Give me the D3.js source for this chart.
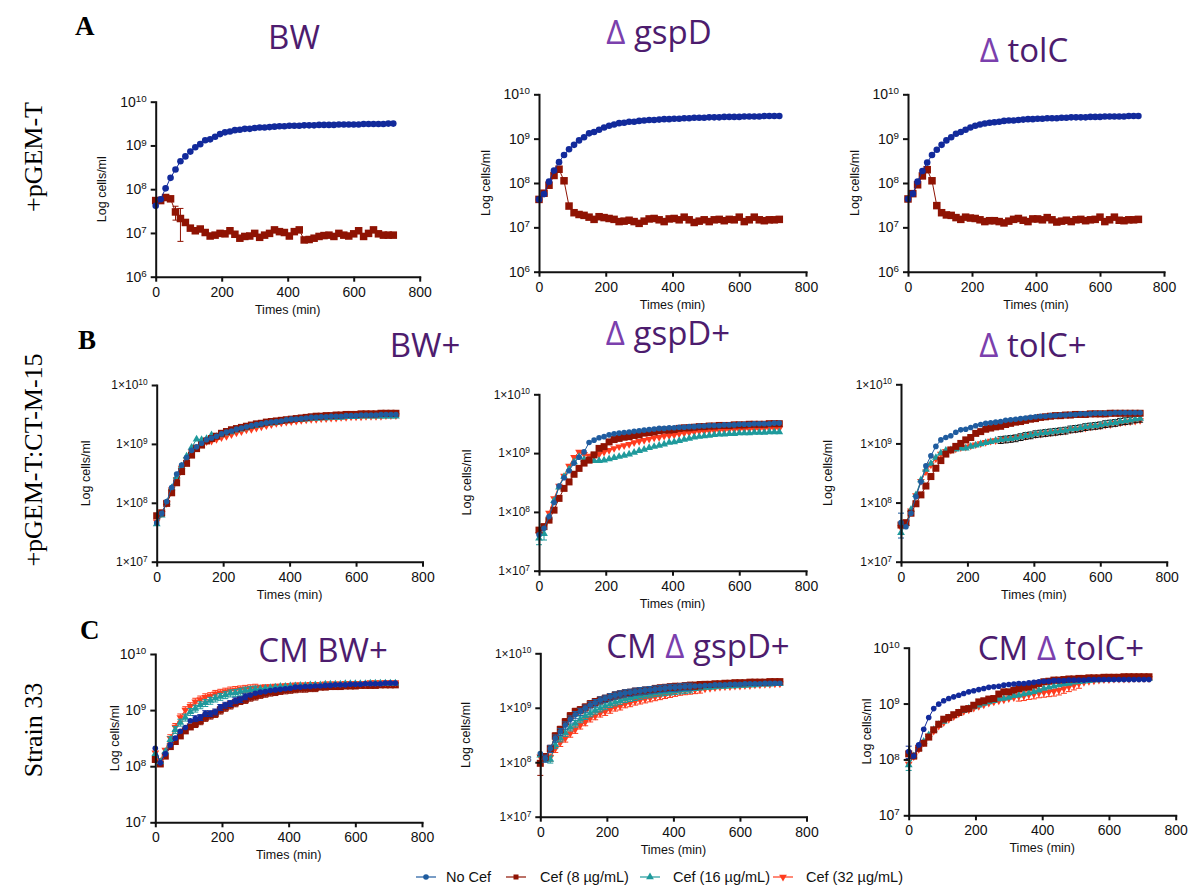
<!DOCTYPE html>
<html>
<head>
<meta charset="utf-8">
<script src="https://cdn.jsdelivr.net/npm/d3@7"></script>
<style>
body{margin:0;background:#fff;}
svg{display:block;}
</style>
</head>
<body>
<svg id="chart" width="1194" height="888"></svg>
<script>
// sampling times (min)
var times=[0,15,30,45,60,75,90,105,120,135,150,165,180,195,210,225,240,255,270,285,300,315,330,345,360,375,390,405,420,435,450,465,480,495,510,525,540,555,570,585,600,615,630,645,660,675,690,705,720];
var xTicks=[0,200,400,600,800];
var yTicks6=[1e6,1e7,1e8,1e9,1e10];
var yTicks7=[1e7,1e8,1e9,1e10];
var legendLabels=["No Cef","Cef (8 \u00b5g/mL)","Cef (16 \u00b5g/mL)","Cef (32 \u00b5g/mL)"];

// values are log10(cells/ml)
var A1_noCef=[7.62,7.77,8.02,8.26,8.45,8.64,8.75,8.86,8.96,9.03,9.12,9.14,9.20,9.26,9.30,9.32,9.35,9.36,9.38,9.38,9.40,9.41,9.41,9.42,9.43,9.44,9.44,9.45,9.45,9.45,9.46,9.46,9.46,9.47,9.47,9.47,9.47,9.48,9.48,9.48,9.48,9.48,9.49,9.49,9.49,9.49,9.49,9.50,9.50];
var A1_cef8=[7.74,7.74,7.81,7.78,7.48,7.33,7.24,7.11,7.05,7.09,7.01,6.93,6.95,6.99,6.98,7.05,6.97,6.88,6.92,6.93,6.99,6.90,6.95,6.99,7.07,7.03,7.01,6.93,7.03,7.07,6.84,6.85,6.88,6.92,6.94,6.95,6.92,6.99,6.95,6.93,6.98,7.05,6.92,6.99,7.07,6.98,6.95,6.95,6.95];
var A2_noCef=[7.63,7.75,8.03,8.28,8.47,8.63,8.76,8.86,8.96,9.03,9.12,9.15,9.20,9.25,9.29,9.32,9.35,9.36,9.38,9.38,9.40,9.41,9.42,9.42,9.43,9.44,9.44,9.45,9.45,9.46,9.46,9.47,9.47,9.47,9.48,9.48,9.48,9.49,9.49,9.49,9.49,9.50,9.50,9.50,9.50,9.51,9.51,9.51,9.51];
var A2_cef8=[7.63,7.77,7.95,8.17,8.31,8.05,7.48,7.33,7.29,7.27,7.23,7.18,7.24,7.22,7.20,7.18,7.13,7.14,7.16,7.13,7.09,7.14,7.19,7.20,7.17,7.13,7.19,7.20,7.17,7.23,7.17,7.11,7.14,7.17,7.13,7.17,7.18,7.15,7.18,7.17,7.23,7.13,7.17,7.23,7.17,7.15,7.17,7.17,7.18];
var A3_noCef=[7.64,7.76,8.03,8.27,8.46,8.63,8.75,8.86,8.96,9.03,9.11,9.15,9.20,9.25,9.29,9.32,9.34,9.36,9.37,9.38,9.40,9.41,9.41,9.42,9.43,9.44,9.44,9.45,9.45,9.46,9.46,9.46,9.47,9.47,9.48,9.48,9.48,9.48,9.49,9.49,9.49,9.50,9.50,9.50,9.50,9.50,9.51,9.51,9.51];
var A3_cef8=[7.64,7.76,7.96,8.16,8.30,8.05,7.49,7.33,7.28,7.27,7.22,7.18,7.23,7.21,7.20,7.17,7.13,7.15,7.15,7.13,7.10,7.14,7.18,7.20,7.16,7.13,7.19,7.19,7.17,7.22,7.17,7.12,7.14,7.16,7.13,7.17,7.18,7.15,7.17,7.18,7.23,7.13,7.17,7.23,7.16,7.15,7.17,7.17,7.18];

var B1_noCef=[7.66,7.82,8.02,8.26,8.49,8.64,8.77,8.89,8.95,9.01,9.07,9.10,9.13,9.17,9.20,9.22,9.25,9.27,9.29,9.31,9.33,9.34,9.36,9.37,9.38,9.39,9.41,9.42,9.42,9.43,9.44,9.45,9.45,9.46,9.46,9.47,9.47,9.47,9.48,9.48,9.48,9.49,9.49,9.49,9.49,9.50,9.50,9.50,9.50];
var B1_cef8=[7.78,7.83,7.99,8.17,8.34,8.53,8.67,8.81,8.92,8.98,9.05,9.09,9.13,9.18,9.21,9.24,9.26,9.28,9.30,9.32,9.34,9.35,9.37,9.38,9.39,9.40,9.41,9.42,9.43,9.44,9.45,9.46,9.47,9.47,9.48,9.48,9.49,9.49,9.50,9.50,9.50,9.51,9.51,9.51,9.51,9.52,9.52,9.52,9.52];
var B1_cef16=[7.64,7.79,8.00,8.25,8.44,8.62,8.79,8.94,9.08,9.07,9.09,9.15,9.12,9.15,9.18,9.20,9.23,9.25,9.27,9.29,9.31,9.32,9.34,9.35,9.36,9.38,9.39,9.40,9.41,9.41,9.42,9.43,9.43,9.44,9.44,9.45,9.45,9.45,9.46,9.46,9.46,9.47,9.47,9.47,9.47,9.47,9.47,9.47,9.47];
var B1_cef32=[7.68,7.82,7.99,8.22,8.40,8.59,8.74,8.87,8.95,9.01,9.04,9.05,9.08,9.11,9.13,9.16,9.19,9.21,9.24,9.25,9.27,9.29,9.31,9.33,9.35,9.36,9.37,9.38,9.39,9.40,9.41,9.42,9.42,9.43,9.43,9.44,9.44,9.45,9.45,9.46,9.46,9.46,9.47,9.47,9.47,9.47,9.48,9.48,9.48];
var B2_noCef=[7.61,7.72,7.92,8.16,8.44,8.58,8.70,8.83,8.93,9.02,9.18,9.22,9.26,9.28,9.31,9.33,9.34,9.35,9.36,9.37,9.38,9.39,9.40,9.41,9.42,9.42,9.43,9.43,9.44,9.44,9.45,9.45,9.46,9.46,9.47,9.47,9.47,9.48,9.48,9.48,9.49,9.49,9.49,9.50,9.50,9.50,9.50,9.51,9.51];
var B2_cef8=[7.69,7.75,7.86,8.03,8.23,8.40,8.51,8.64,8.74,8.83,8.88,8.97,9.08,9.11,9.19,9.23,9.25,9.27,9.28,9.30,9.31,9.34,9.35,9.36,9.38,9.39,9.39,9.40,9.42,9.43,9.43,9.44,9.45,9.45,9.46,9.46,9.47,9.47,9.47,9.48,9.48,9.48,9.49,9.49,9.49,9.49,9.50,9.50,9.50];
var B2_cef16=[7.55,7.63,7.91,8.19,8.42,8.60,8.72,8.85,8.94,8.89,8.88,8.87,8.87,8.88,8.90,8.92,8.94,8.96,8.98,9.01,9.04,9.06,9.09,9.11,9.13,9.15,9.18,9.19,9.21,9.23,9.25,9.27,9.28,9.29,9.30,9.31,9.32,9.32,9.33,9.33,9.34,9.34,9.34,9.35,9.35,9.35,9.36,9.36,9.36];
var B2_cef32=[7.62,7.75,7.98,8.23,8.44,8.61,8.78,8.93,9.02,8.98,8.95,8.97,8.98,9.02,9.05,9.08,9.11,9.13,9.15,9.18,9.20,9.22,9.24,9.26,9.27,9.29,9.30,9.31,9.33,9.34,9.35,9.36,9.37,9.37,9.38,9.38,9.39,9.39,9.40,9.40,9.40,9.41,9.41,9.41,9.41,9.42,9.42,9.42,9.42];
var B3_noCef=[7.66,7.59,7.82,8.10,8.35,8.62,8.79,8.95,9.06,9.10,9.13,9.19,9.23,9.24,9.27,9.30,9.32,9.34,9.35,9.36,9.37,9.39,9.40,9.41,9.42,9.43,9.44,9.45,9.46,9.46,9.47,9.47,9.48,9.48,9.49,9.49,9.50,9.50,9.50,9.51,9.51,9.51,9.51,9.52,9.52,9.52,9.52,9.52,9.52];
var B3_cef8=[7.62,7.66,7.82,7.98,8.13,8.28,8.44,8.58,8.71,8.82,8.89,8.95,9.00,9.06,9.10,9.17,9.20,9.24,9.26,9.28,9.29,9.32,9.34,9.36,9.37,9.39,9.41,9.42,9.44,9.45,9.46,9.47,9.47,9.48,9.48,9.49,9.49,9.49,9.50,9.50,9.50,9.50,9.51,9.51,9.51,9.51,9.51,9.51,9.51];
var B3_cef16=[7.49,7.64,7.88,8.13,8.38,8.56,8.66,8.76,8.84,8.88,8.89,8.90,8.92,8.92,8.95,8.97,8.99,9.01,9.03,9.05,9.06,9.07,9.08,9.09,9.11,9.13,9.14,9.16,9.17,9.18,9.19,9.20,9.21,9.22,9.24,9.25,9.26,9.28,9.29,9.30,9.31,9.33,9.34,9.35,9.37,9.38,9.39,9.41,9.42];
var B3_cef32=[7.58,7.66,7.86,8.12,8.36,8.52,8.64,8.74,8.82,8.87,8.89,8.91,8.93,8.94,8.96,8.98,9.00,9.02,9.04,9.05,9.06,9.07,9.08,9.10,9.11,9.12,9.14,9.15,9.16,9.17,9.18,9.19,9.20,9.21,9.23,9.24,9.25,9.26,9.28,9.29,9.30,9.31,9.32,9.34,9.35,9.36,9.37,9.38,9.39];

var C1_noCef=[8.32,8.06,8.22,8.38,8.50,8.62,8.69,8.81,8.85,8.87,8.94,8.94,8.97,9.05,9.09,9.12,9.17,9.19,9.24,9.27,9.30,9.32,9.33,9.35,9.36,9.37,9.38,9.39,9.41,9.41,9.42,9.42,9.43,9.43,9.44,9.44,9.45,9.45,9.45,9.46,9.46,9.46,9.47,9.47,9.47,9.47,9.48,9.48,9.48];
var C1_cef8=[8.12,8.04,8.18,8.35,8.44,8.54,8.63,8.70,8.76,8.81,8.87,8.91,8.94,9.00,9.05,9.09,9.13,9.17,9.19,9.23,9.25,9.28,9.30,9.32,9.33,9.35,9.36,9.37,9.38,9.39,9.39,9.40,9.40,9.41,9.41,9.42,9.42,9.42,9.43,9.43,9.43,9.44,9.44,9.44,9.44,9.45,9.45,9.45,9.45];
var C1_cef16=[8.22,8.08,8.26,8.47,8.65,8.78,8.87,8.97,9.03,9.09,9.13,9.17,9.21,9.24,9.27,9.30,9.31,9.33,9.35,9.36,9.37,9.38,9.39,9.40,9.41,9.42,9.42,9.43,9.43,9.44,9.44,9.45,9.45,9.45,9.46,9.46,9.46,9.46,9.47,9.47,9.47,9.47,9.47,9.48,9.48,9.48,9.48,9.48,9.48];
var C1_cef32=[8.24,8.10,8.29,8.50,8.70,8.87,9.00,9.07,9.15,9.19,9.23,9.25,9.29,9.31,9.33,9.35,9.36,9.37,9.38,9.39,9.40,9.41,9.42,9.42,9.43,9.43,9.44,9.44,9.45,9.45,9.45,9.46,9.46,9.46,9.47,9.47,9.47,9.47,9.48,9.48,9.48,9.48,9.48,9.49,9.49,9.49,9.49,9.49,9.49];
var C2_noCef=[8.16,8.07,8.25,8.44,8.56,8.68,8.79,8.87,8.93,8.99,9.05,9.09,9.14,9.17,9.20,9.23,9.25,9.27,9.28,9.30,9.31,9.32,9.33,9.34,9.35,9.36,9.37,9.37,9.38,9.39,9.39,9.40,9.40,9.41,9.41,9.42,9.42,9.42,9.43,9.43,9.43,9.44,9.44,9.44,9.44,9.45,9.45,9.45,9.45];
var C2_cef8=[7.98,8.10,8.25,8.48,8.60,8.74,8.85,8.93,8.96,9.01,9.07,9.11,9.14,9.17,9.20,9.23,9.25,9.27,9.28,9.30,9.31,9.32,9.33,9.35,9.36,9.37,9.38,9.39,9.39,9.40,9.41,9.41,9.42,9.43,9.43,9.44,9.44,9.45,9.45,9.46,9.46,9.46,9.47,9.47,9.47,9.47,9.48,9.48,9.48];
var C2_cef16=[8.13,8.04,8.05,8.32,8.44,8.54,8.64,8.71,8.79,8.85,8.90,8.95,8.99,9.03,9.07,9.10,9.13,9.16,9.18,9.20,9.22,9.24,9.25,9.27,9.28,9.29,9.30,9.31,9.32,9.33,9.34,9.35,9.36,9.37,9.37,9.38,9.39,9.39,9.40,9.40,9.41,9.41,9.42,9.42,9.43,9.43,9.43,9.44,9.44];
var C2_cef32=[8.10,8.11,8.09,8.25,8.36,8.44,8.53,8.60,8.68,8.74,8.81,8.85,8.90,8.93,8.97,9.01,9.03,9.07,9.09,9.12,9.14,9.16,9.18,9.20,9.22,9.24,9.26,9.28,9.30,9.31,9.32,9.33,9.34,9.35,9.36,9.37,9.38,9.39,9.39,9.40,9.40,9.41,9.41,9.42,9.42,9.43,9.43,9.44,9.44];
var C3_noCef=[8.14,8.06,8.26,8.54,8.75,8.91,8.99,9.05,9.09,9.12,9.15,9.18,9.21,9.23,9.25,9.27,9.29,9.30,9.31,9.33,9.34,9.35,9.36,9.36,9.37,9.38,9.39,9.40,9.40,9.41,9.41,9.41,9.42,9.42,9.42,9.42,9.43,9.43,9.43,9.43,9.43,9.43,9.43,9.43,9.43,9.43,9.43,9.43,9.43];
var C3_cef8=[8.10,8.06,8.20,8.29,8.40,8.53,8.63,8.72,8.75,8.80,8.84,8.90,8.91,8.97,9.03,9.05,9.08,9.09,9.17,9.21,9.21,9.24,9.27,9.29,9.30,9.33,9.36,9.39,9.40,9.42,9.42,9.43,9.44,9.44,9.45,9.45,9.46,9.46,9.46,9.47,9.47,9.47,9.47,9.48,9.48,9.48,9.48,9.48,9.48];
var C3_cef16=[7.90,8.06,8.20,8.32,8.44,8.53,8.62,8.68,8.74,8.78,8.83,8.87,8.91,8.94,8.97,9.00,9.03,9.05,9.08,9.09,9.11,9.14,9.15,9.17,9.19,9.21,9.24,9.27,9.29,9.31,9.33,9.35,9.36,9.38,9.39,9.40,9.41,9.42,9.42,9.43,9.43,9.44,9.44,9.44,9.45,9.45,9.45,9.45,9.45];
var C3_cef32=[7.92,8.05,8.18,8.30,8.42,8.51,8.60,8.66,8.72,8.77,8.82,8.86,8.89,8.92,8.95,8.98,9.01,9.03,9.05,9.07,9.09,9.11,9.13,9.14,9.16,9.17,9.19,9.20,9.21,9.22,9.24,9.27,9.30,9.33,9.36,9.38,9.40,9.41,9.42,9.43,9.43,9.44,9.44,9.44,9.44,9.45,9.45,9.45,9.45];

// error bars: [fromIndex, toIndex, SD as fraction of the mean]
var A1_cef8_err=[[4,4,0.35],[5,5,0.7],[6,6,0.15]];
var B2_cef16_err=[[0,1,0.22]];
var B3_noCef_err=[[0,0,0.45]];
var B3_cef16_err=[[20,48,0.13]];
var C1_noCef_err=[[8,18,0.12]];
var C1_cef8_err=[[8,32,0.15]];
var C1_cef16_err=[[3,20,0.14]];
var C1_cef32_err=[[3,20,0.15]];
var C2_noCef_err=[[1,30,0.15]];
var C2_cef8_err=[[0,0,0.4],[1,32,0.15]];
var C2_cef16_err=[[2,30,0.14]];
var C2_cef32_err=[[2,32,0.15]];
var C3_noCef_err=[[0,0,0.25]];
var C3_cef16_err=[[0,0,0.2]];
var C3_cef32_err=[[22,34,0.18]];

var navy="#122a9b", steel="#1f5c9f", cef8Col="#8f1303", cef16Col="#1f9a9c", cef32Col="#ff3c1e";
var titleCol="#4d1c6e", deltaCol="#7b40ad";

var svg=d3.select("#chart");

var panels=[
	{title:[["BW",0]],tx:294,ty:49,x0:155.7,x1:419.7,yTop:101.7,yBot:276.7,yt:yTicks6,fmt:"pow",tf:14,lx:54,blue:navy,big:true,
		series:[["cef8",A1_cef8,A1_cef8_err],["noCef",A1_noCef]]},
	{title:[["\u0394",1],[" gspD",0]],tx:659,ty:44,x0:539,x1:806,yTop:94.3,yBot:271.7,yt:yTicks6,fmt:"pow",tf:14,lx:53,blue:navy,big:true,
		series:[["cef8",A2_cef8],["noCef",A2_noCef]]},
	{title:[["\u0394",1],[" tolC",0]],tx:1024,ty:62,x0:908,x1:1164,yTop:94.3,yBot:271.7,yt:yTicks6,fmt:"pow",tf:14,lx:53,blue:navy,big:true,
		series:[["cef8",A3_cef8],["noCef",A3_noCef]]},
	{title:[["BW+",0]],tx:425,ty:357,x0:156.7,x1:422.5,yTop:385,yBot:561.7,yt:yTicks7,fmt:"times",tf:12,lx:71,blue:steel,
		series:[["cef32",B1_cef32],["cef16",B1_cef16],["cef8",B1_cef8],["noCef",B1_noCef]]},
	{title:[["\u0394",1],[" gspD+",0]],tx:668,ty:345,x0:539,x1:806,yTop:394.3,yBot:570.7,yt:yTicks7,fmt:"times",tf:12,lx:72,blue:steel,
		series:[["cef32",B2_cef32],["cef16",B2_cef16,B2_cef16_err],["cef8",B2_cef8],["noCef",B2_noCef]]},
	{title:[["\u0394",1],[" tolC+",0]],tx:1033,ty:357,x0:901,x1:1166.7,yTop:384.3,yBot:561.7,yt:yTicks7,fmt:"times",tf:12,lx:73,blue:steel,
		series:[["cef32",B3_cef32],["cef16",B3_cef16,B3_cef16_err,"#111"],["cef8",B3_cef8],["noCef",B3_noCef,B3_noCef_err]]},
	{title:[["CM BW+",0]],tx:323,ty:662,x0:155.3,x1:422,yTop:654,yBot:822.3,yt:yTicks7,fmt:"pow",tf:14,lx:40,blue:navy,
		series:[["cef8",C1_cef8,C1_cef8_err],["cef32",C1_cef32,C1_cef32_err],["cef16",C1_cef16,C1_cef16_err],["noCef",C1_noCef,C1_noCef_err]]},
	{title:[["CM ",0],["\u0394",1],[" gspD+",0]],tx:698,ty:658,x0:540.3,x1:806.5,yTop:653.3,yBot:816.7,yt:yTicks7,fmt:"times",tf:12,lx:74,blue:steel,
		series:[["cef32",C2_cef32,C2_cef32_err],["cef16",C2_cef16,C2_cef16_err],["cef8",C2_cef8,C2_cef8_err],["noCef",C2_noCef,C2_noCef_err]]},
	{title:[["CM ",0],["\u0394",1],[" tolC+",0]],tx:1061,ty:660,x0:908.7,x1:1175.7,yTop:647.7,yBot:815.3,yt:yTicks7,fmt:"pow",tf:14,lx:42,blue:navy,
		series:[["cef32",C3_cef32,C3_cef32_err],["cef16",C3_cef16,C3_cef16_err],["cef8",C3_cef8],["noCef",C3_noCef,C3_noCef_err]]}
];

function seriesColor(key,p){
	if(key=="noCef") return p.blue;
	if(key=="cef8") return cef8Col;
	if(key=="cef16") return cef16Col;
	return cef32Col;
}

function drawMarker(sel,key,col,big){
	if(key=="noCef"){
		sel.append("circle").attr("r",big?3.3:2.8).attr("fill",col);
	}else if(key=="cef8"){
		var s=big?7.5:7;
		sel.append("rect").attr("x",-s/2).attr("y",-s/2).attr("width",s).attr("height",s).attr("fill",col);
	}else if(key=="cef16"){
		sel.append("path").attr("d",d3.symbol(d3.symbolTriangle,26)()).attr("fill",col);
	}else{
		sel.append("path").attr("d",d3.symbol(d3.symbolTriangle,26)()).attr("transform","rotate(180)").attr("fill",col);
	}
}

function drawPanel(p){
	var g=svg.append("g");
	var x=d3.scaleLinear().domain([0,800]).range([p.x0,p.x1]);
	var y=d3.scaleLog().domain([p.yt[0],1e10]).range([p.yBot,p.yTop]);

	// series
	p.series.forEach(function(s){
		var key=s[0], vals=s[1], errs=s[2]||[], col=seriesColor(key,p), errCol=s[3]||col;
		var sg=g.append("g");
		errs.forEach(function(e){
			for(var i=e[0];i<=e[1];i++){
				var v=Math.pow(10,vals[i]);
				var top=v*(1+e[2]), bot=Math.max(v*(1-e[2]),p.yt[0]);
				var xx=x(times[i]);
				sg.append("line").attr("x1",xx).attr("x2",xx).attr("y1",y(top)).attr("y2",y(bot)).attr("stroke",errCol).attr("stroke-width",1);
				sg.append("line").attr("x1",xx-3).attr("x2",xx+3).attr("y1",y(top)).attr("y2",y(top)).attr("stroke",errCol).attr("stroke-width",1);
				sg.append("line").attr("x1",xx-3).attr("x2",xx+3).attr("y1",y(bot)).attr("y2",y(bot)).attr("stroke",errCol).attr("stroke-width",1);
			}
		});
		var line=d3.line().x(function(d,i){return x(times[i]);}).y(function(d){return y(Math.pow(10,d));});
		sg.append("path").datum(vals).attr("d",line).attr("fill","none").attr("stroke",col).attr("stroke-width",1);
		sg.selectAll(".pt").data(vals).enter().append("g")
			.attr("transform",function(d,i){return "translate("+x(times[i])+","+y(Math.pow(10,d))+")";})
			.each(function(){drawMarker(d3.select(this),key,col,p.big);});
	});

	// axes
	var ya=g.append("g").attr("transform","translate("+p.x0+",0)")
		.call(d3.axisLeft(y).tickValues(p.yt).tickSize(5).tickSizeOuter(0).tickPadding(4).tickFormat(""));
	ya.selectAll(".tick text").attr("font-family","'Liberation Sans', Arial, sans-serif").attr("font-size",p.tf).attr("fill","#111")
		.each(function(d){
			var t=d3.select(this);
			t.append("tspan").text((p.fmt=="times"?"1\u00d710":"10"));
			t.append("tspan").attr("dy","-0.5em").attr("font-size",p.tf*0.7).text(Math.round(Math.log10(d)));
		});
	var xa=g.append("g").attr("transform","translate(0,"+p.yBot+")")
		.call(d3.axisBottom(x).tickValues(xTicks).tickSize(5).tickSizeOuter(0).tickPadding(5));
	xa.selectAll(".tick text").attr("font-family","'Liberation Sans', Arial, sans-serif").attr("font-size",14).attr("fill","#111");
	g.selectAll(".domain").attr("stroke","#111").attr("stroke-width",2).attr("stroke-linecap","square");
	g.selectAll(".tick line").attr("stroke","#111").attr("stroke-width",2);

	// axis titles
	g.append("text").attr("transform","translate("+(p.x0-p.lx+4)+","+((p.yTop+p.yBot)/2)+") rotate(-90)")
		.attr("text-anchor","middle").attr("font-family","'Liberation Sans', Arial, sans-serif").attr("font-size",12.5).attr("fill","#111")
		.text("Log cells/ml");
	g.append("text").attr("x",x(400)).attr("y",p.yBot+37)
		.attr("text-anchor","middle").attr("font-family","'Liberation Sans', Arial, sans-serif").attr("font-size",12.5).attr("fill","#111")
		.text("Times (min)");

	// panel title
	var tt=g.append("text").attr("x",p.tx).attr("y",p.ty).attr("text-anchor","middle")
		.attr("font-family","'Open Sans', sans-serif").attr("font-size",33).attr("fill",titleCol);
	p.title.forEach(function(part){
		tt.append("tspan").attr("fill",part[1]?deltaCol:titleCol).text(part[0]);
	});
}

panels.forEach(drawPanel);

// letters and row labels
var serif="'Liberation Serif', 'Times New Roman', serif";
[["A",75,35],["B",78,349],["C",80,639]].forEach(function(l){
	svg.append("text").attr("x",l[1]).attr("y",l[2]).attr("font-family",serif).attr("font-weight","bold").attr("font-size",27).attr("fill","#000").text(l[0]);
});
[["+pGEM-T",157],["+pGEM-T:CT-M-15",460],["Strain 33",730]].forEach(function(l){
	svg.append("text").attr("transform","translate(42,"+l[1]+") rotate(-90)").attr("text-anchor","middle")
		.attr("font-family",serif).attr("font-size",26).attr("fill","#000").text(l[0]);
});

// legend
var legendKeys=["noCef","cef8","cef16","cef32"];
var legendCols=[steel,cef8Col,cef16Col,cef32Col];
var legendX=[426,516,650,783];
var legendTextX=[446,540,673,806];
var ly=877;
legendKeys.forEach(function(k,i){
	var lg=svg.append("g");
	lg.append("line").attr("x1",legendX[i]-10).attr("x2",legendX[i]+10).attr("y1",ly).attr("y2",ly).attr("stroke",legendCols[i]).attr("stroke-width",1.2);
	var m=lg.append("g").attr("transform","translate("+legendX[i]+","+ly+")");
	drawMarker(m,k,legendCols[i],false);
	m.selectAll("rect").attr("x",-2.5).attr("y",-2.5).attr("width",5).attr("height",5);
	lg.append("text").attr("x",legendTextX[i]).attr("y",ly+5).attr("font-family","'Liberation Sans', Arial, sans-serif").attr("font-size",14.5).attr("fill","#111").text(legendLabels[i]);
});
</script>
</body>
</html>
